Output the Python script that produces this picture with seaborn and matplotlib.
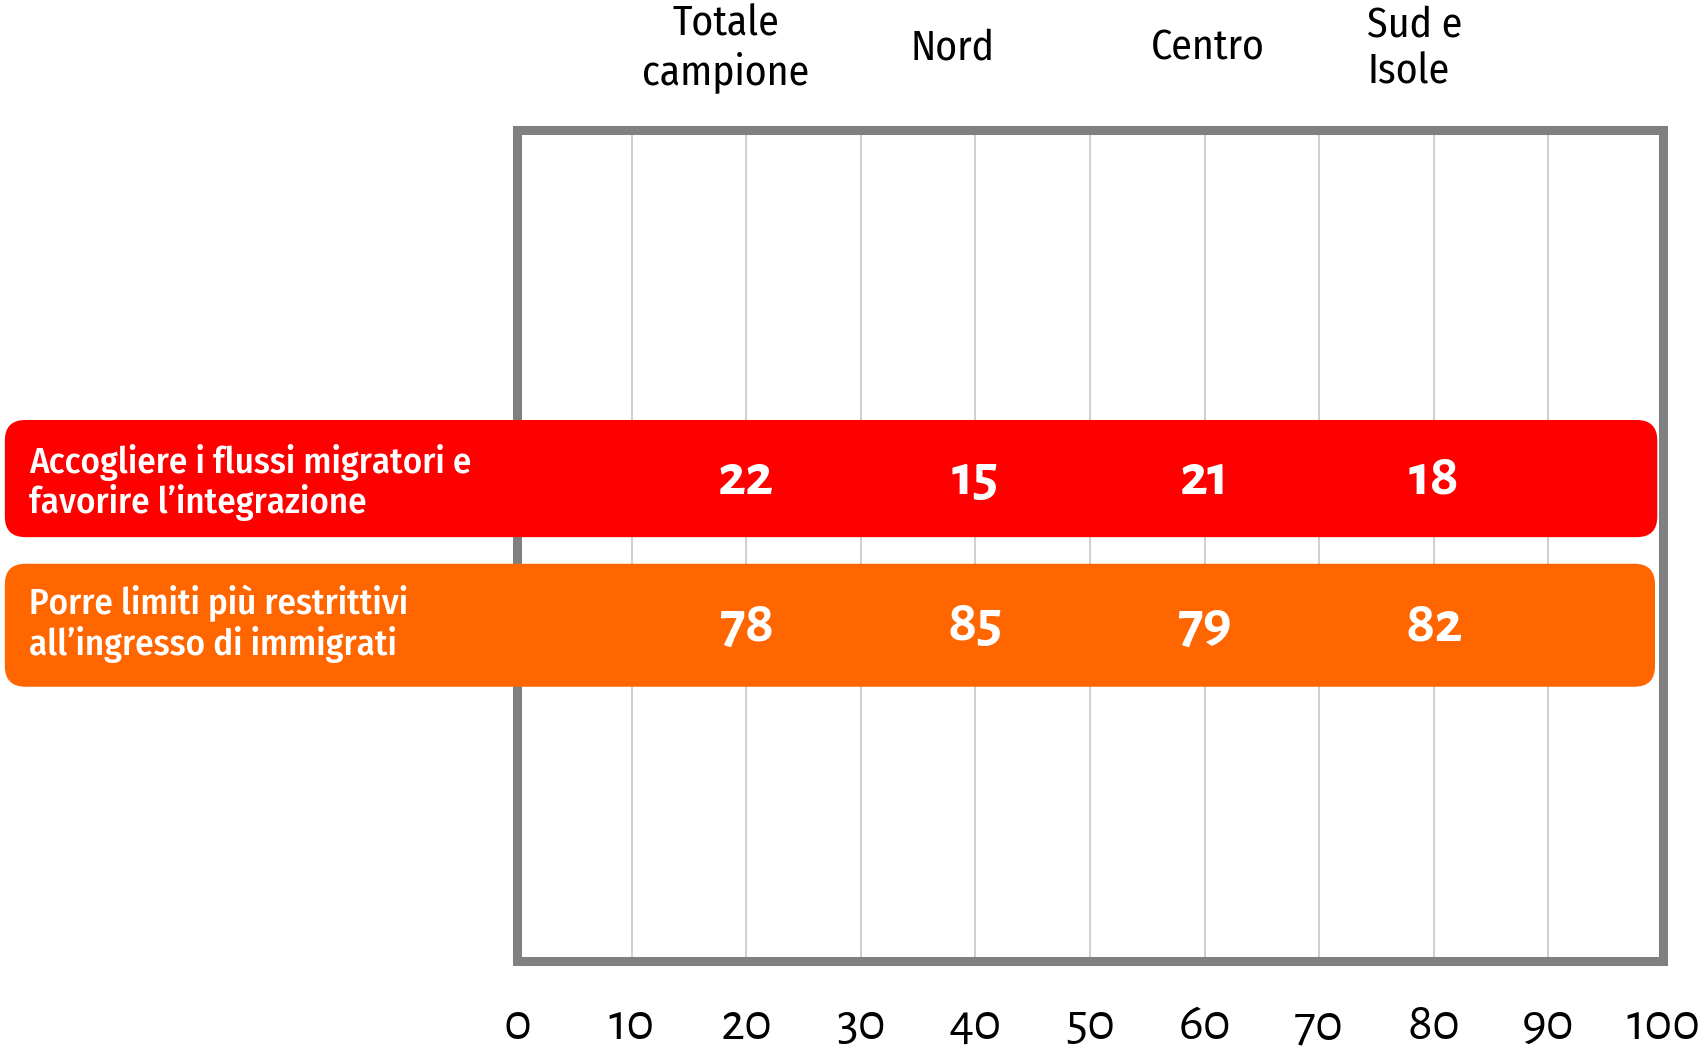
# tabella: accoglienza vs limiti all'immigrazione per area geografica

import matplotlib
matplotlib.use('Agg')
import matplotlib.pyplot as plt
import seaborn as sns
from matplotlib.patches import FancyBboxPatch

# dati
regioni = ['Totale\ncampione', 'Nord', 'Centro', 'Sud e\nIsole']
risposte = ['Accogliere i flussi migratori e\nfavorire l’integrazione',
            'Porre limiti più restrittivi\nall’ingresso di immigrati']
accogliere = [22, 15, 21, 18]
limitare = [78, 85, 79, 82]
tacche = list(range(0, 101, 10))

# layout
col_x = [20, 40, 60, 80]
head_x = [18.2, 38.0, 60.3, 74.2]
head_ha = ['center', 'center', 'center', 'left']
bande = [(-44.7, 99.5, 3.49, 4.90, '#ff0000', 0.05),
         (-44.7, 99.3, 5.22, 6.70, '#ff6600', -0.02)]

sns.set_theme(style='white')
plt.rcParams['font.family'] = ['Fira Sans Condensed', 'DejaVu Sans']
cifre = ['Alegreya Sans', 'DejaVu Sans']  # numeri in stile antico

fig = plt.figure(figsize=(17.02, 10.52), dpi=100)
ax = fig.add_axes([0.3038, 0.0865, 0.6733, 0.79])
ax.set_xlim(0, 100)
ax.set_ylim(10, 0)

# griglia e cornice
ax.set_xticks(tacche)
ax.set_yticks([])
ax.grid(axis='x', color='#cccccc', linewidth=1.3)
ax.set_axisbelow(True)
for s in ax.spines.values():
    s.set_color('#808080')
    s.set_linewidth(6.5)
    s.set_visible(True)
ax.tick_params(axis='x', length=0, pad=29, colors='black')
for t in ax.get_xticklabels():
    t.set_fontfamily(cifre)
    t.set_fontsize(38)

# rapporto pixel per arrotondare gli angoli allo stesso modo
px_x = 0.6733 * 1702 / 100
px_y = 0.79 * 1052 / 10
aspetto = px_x / px_y

valori = [accogliere, limitare]
for (x0, x1, y0, y1, colore, dy), etichetta, riga in zip(bande, risposte, valori):
    box = FancyBboxPatch((x0, y0), x1 - x0, y1 - y0,
                         boxstyle='round,pad=0,rounding_size=1.8',
                         mutation_aspect=aspetto, fc=colore, ec='none',
                         clip_on=False, zorder=3)
    ax.add_patch(box)
    yc = (y0 + y1) / 2
    ax.text(-42.6, yc + dy, etichetta, ha='left', va='center', color='white',
            fontsize=26.5, fontweight=500, linespacing=1.12, zorder=4)
    for x, v in zip(col_x, riga):
        ax.text(x, yc, str(v), ha='center', va='center', color='white',
                fontsize=43, fontweight=700, family=cifre, zorder=4)

# intestazioni delle colonne
for x, r, ha in zip(head_x, regioni, head_ha):
    ax.text(x, 1.098, r, transform=ax.get_xaxis_transform(), ha=ha,
            multialignment=ha, va='center', fontsize=30, linespacing=1.2,
            color='black')

plt.savefig('out.png', dpi=100)
